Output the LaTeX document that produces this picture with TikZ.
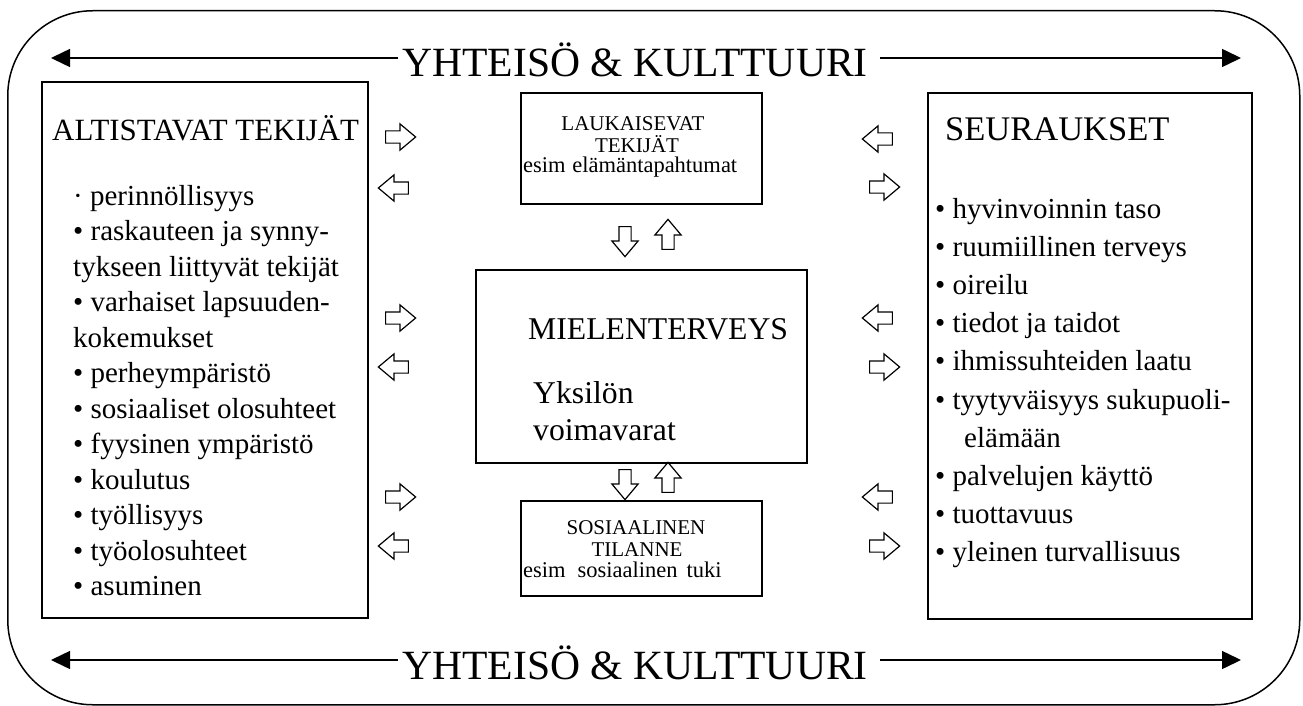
\documentclass[tikz,border=0pt]{standalone}
\usepackage{fontspec}
\setmainfont{Liberation Serif}
\usetikzlibrary{shapes.arrows,arrows.meta}
\begin{document}
\begin{tikzpicture}[x=1pt,y=-1pt,
  box/.style={draw, line width=1.8pt, rectangle, inner sep=0pt, anchor=north west},
  harrow/.style={single arrow, draw, line width=1.2pt, inner sep=5.5pt, minimum height=30pt,
     single arrow head extend=7pt, single arrow tip angle=80},
  rarrow/.style={harrow, shape border rotate=0},
  larrow/.style={harrow, shape border rotate=180},
  uarrow/.style={harrow, shape border rotate=90},
  darrow/.style={harrow, shape border rotate=270},
  big/.style={font=\fontsize{29pt}{35pt}\selectfont, inner sep=0pt, anchor=base west},
  midtext/.style={font=\fontsize{31.7pt}{37pt}\selectfont, inner sep=0pt, anchor=base west},
  titletext/.style={font=\fontsize{41.6pt}{48pt}\selectfont, inner sep=0pt, anchor=base},
  smallcap/.style={font=\fontsize{21pt}{24pt}\selectfont, inner sep=0pt, anchor=base},
  smalllc/.style={font=\fontsize{22.5pt}{24pt}\selectfont, inner sep=0pt, anchor=base west},
  titlearrow/.style={line width=1.5pt, -{Triangle[length=19pt,width=18pt]}},
]
\useasboundingbox (0,0) rectangle (1303,706);

% outer frame
\node[draw, line width=1.5pt, rounded corners=85pt, minimum width=1292pt, minimum height=694pt,
      anchor=north west, inner sep=0pt] (frame) at (7,10) {};

% titles and arrows
\node[titletext] (t1) at (635,77) {YHTEISÖ \& KULTTUURI};
\node[titletext] (t2) at (635,679) {YHTEISÖ \& KULTTUURI};
\coordinate (a1) at (51,58);   \coordinate (s1) at (398,58);
\coordinate (a2) at (1241,58); \coordinate (s2) at (880,58);
\coordinate (a3) at (51,660);  \coordinate (s3) at (398,660);
\coordinate (a4) at (1241,660);\coordinate (s4) at (880,660);
\draw[titlearrow] (s1) -- (a1);
\draw[titlearrow] (s2) -- (a2);
\draw[titlearrow] (s3) -- (a3);
\draw[titlearrow] (s4) -- (a4);

% boxes
\node[box, minimum width=326pt, minimum height=536pt] (left) at (41,81) {};
\node[box, minimum width=324pt, minimum height=526pt] (right) at (927,92) {};
\node[box, minimum width=241pt, minimum height=111pt] (top) at (520,92) {};
\node[box, minimum width=331pt, minimum height=193pt] (mid) at (475,269) {};
\node[box, minimum width=241pt, minimum height=95pt] (bot) at (520,500) {};

% left box text
\node[big, font=\fontsize{30.9pt}{35pt}\selectfont] (lh) at (52,140) {ALTISTAVAT TEKIJÄT};
\foreach \t [count=\i from 0] in {{· perinnöllisyys},{• raskauteen ja synny-},{tykseen liittyvät tekijät},
   {• varhaiset lapsuuden-},{kokemukset},{• perheympäristö},{• sosiaaliset olosuhteet},
   {• fyysinen ympäristö},{• koulutus},{• työllisyys},{• työolosuhteet},{• asuminen}}
  \node[big] (l\i) at (73,{205+35.5*\i}) {\t};

% right box text
\node[big, font=\fontsize{34.5pt}{40pt}\selectfont] (rh) at (945,140) {SEURAUKSET};
\foreach \t [count=\i from 0] in {{• hyvinvoinnin taso},{• ruumiillinen terveys},{• oireilu},
   {• tiedot ja taidot},{• ihmissuhteiden laatu},{• tyytyväisyys sukupuoli-},
   {\hspace*{29pt}elämään},{• palvelujen käyttö},{• tuottavuus},{• yleinen turvallisuus}}
  \node[big] (r\i) at (935,{218+38.2*\i}) {\t};

% middle box text
\node[midtext] (mh) at (528,339) {MIELENTERVEYS};
\node[midtext] (m1) at (533,403) {Yksilön};
\node[midtext] (m2) at (533,440) {voimavarat};

% top small box
\node[smallcap] (u1) at (633,131) {LAUKAISEVAT};
\node[smallcap] (u2) at (637,152) {TEKIJÄT};
\node[smalllc] (u3) at (523,172) {\makebox[214pt][s]{esim elämäntapahtumat}};

% bottom small box
\node[smallcap] (b1) at (636,534) {SOSIAALINEN};
\node[smallcap] (b2) at (637,556) {TILANNE};
\node[smalllc] (b3) at (523,577) {esim\hspace{12pt}sosiaalinen\hspace{9pt}tuki};

% hollow arrows, left side
\node[rarrow] (la1) at (397,137) {};
\node[larrow] (la2) at (397,188) {};
\node[rarrow] (la3) at (397,318) {};
\node[larrow] (la4) at (397,367) {};
\node[rarrow] (la5) at (397,497) {};
\node[larrow] (la6) at (397,546) {};
% right side
\node[larrow] (ra1) at (881,139) {};
\node[rarrow] (ra2) at (881,187) {};
\node[larrow] (ra3) at (881,318) {};
\node[rarrow] (ra4) at (881,367) {};
\node[larrow] (ra5) at (881,497) {};
\node[rarrow] (ra6) at (881,546) {};
% vertical
\node[darrow] (va1) at (625,238) {};
\node[uarrow] (va2) at (668,238) {};
\node[darrow] (va3) at (625,481) {};
\node[uarrow] (va4) at (668,481) {};
\end{tikzpicture}
\end{document}
